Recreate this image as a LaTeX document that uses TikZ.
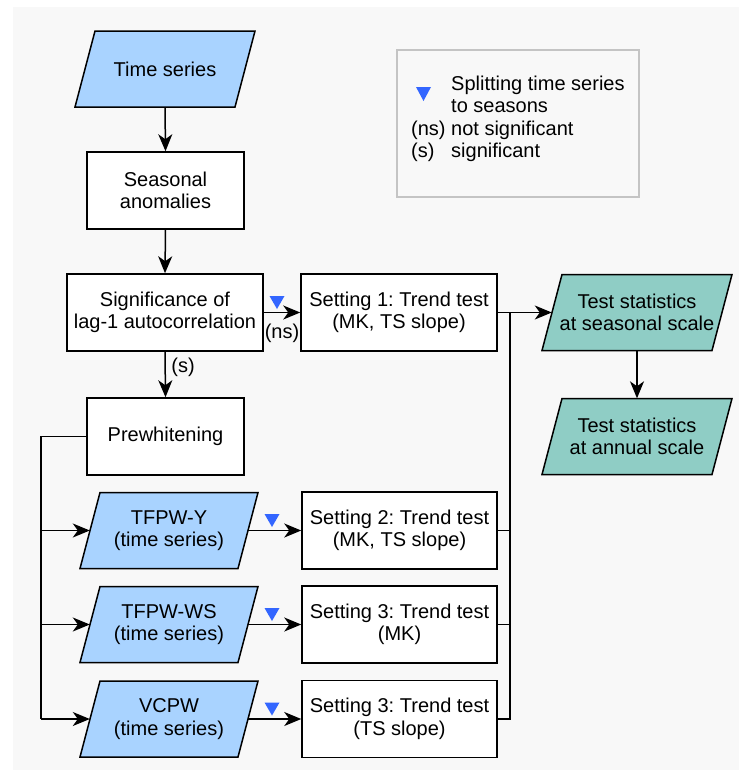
\documentclass[tikz,border=0pt]{standalone}
\usepackage{fontspec}
\setmainfont{Liberation Sans}
\usetikzlibrary{arrows.meta,calc}
\definecolor{bgc}{HTML}{F8F8F8}
\definecolor{lblue}{HTML}{A9D3FF}
\definecolor{lteal}{HTML}{8FCDC5}
\definecolor{splitblue}{HTML}{3366FF}
\definecolor{lgdgray}{HTML}{C4C4C4}
\newcommand{\mypara}[6]{%
  \filldraw[fill=#5, draw=black, line width=1.5pt] (#2-#4+10,#3-38) -- (#2+#4+10,#3-38) -- (#2+#4-10,#3+38) -- (#2-#4-10,#3+38) -- cycle;
  \node[txt, minimum width=2*#4, minimum height=76] (#1) at (#2,#3) {#6};}
\newcommand{\splitmark}[2]{\fill[splitblue] (#1-7.5,#2-16.5) -- (#1+7.5,#2-16.5) -- (#1,#2-3.5) -- cycle;}
\frenchspacing
\begin{document}
\begin{tikzpicture}[x=1pt,y=-1pt,
  font=\fontsize{20}{22.5}\selectfont,
  txt/.style={inner sep=0pt, align=center},
  box/.style={txt, draw=black, fill=white, line width=1.5pt, minimum width=157, minimum height=77},
  wbox/.style={box, minimum width=196},
  conn/.style={line width=1.5pt},
  arr/.style={line width=1.5pt, -{Stealth[length=17pt,width=14pt,inset=5pt]}},
  lbl/.style={inner sep=0pt, anchor=base}]
\useasboundingbox (0,0) rectangle (739,774);
\fill[bgc] (13,7) rectangle (739,770);

% legend
\node[draw=lgdgray, line width=1.5pt, fill=bgc, minimum width=242, minimum height=147, inner sep=0pt] (legend) at (518,123.5) {};
\fill[splitblue] (416,87) -- (431,87) -- (423.5,101) -- cycle;
\node[lbl, anchor=base west] (lg1) at (451,90) {Splitting time series};
\node[lbl, anchor=base west] (lg2) at (451,112.5) {to seasons};
\node[lbl, anchor=base west] (lg3) at (411,135) {(ns)};
\node[lbl, anchor=base west] (lg4) at (451,135) {not significant};
\node[lbl, anchor=base west] (lg5) at (411,157.5) {(s)};
\node[lbl, anchor=base west] (lg6) at (451,157.5) {significant};

% main column
\mypara{ts}{165}{69}{80}{lblue}{Time series}
\node[box] (sa) at (165.5,190.5) {Seasonal\\anomalies};
\node[wbox] (sig) at (165,312.5) {Significance of\\lag-1 autocorrelation};
\node[box] (pw) at (165.5,436.5) {Prewhitening};

% prewhitened series
\mypara{tfy}{169}{530.5}{79}{lblue}{TFPW-Y\\(time series)}
\mypara{tfws}{169}{624.5}{79}{lblue}{TFPW-WS\\(time series)}
\mypara{vcpw}{169}{719}{79}{lblue}{VCPW\\(time series)}

% settings
\node[wbox] (s1) at (399,312.5) {Setting 1: Trend test\\(MK, TS slope)};
\node[box, minimum width=195] (s2) at (399.5,530.5) {Setting 2: Trend test\\(MK, TS slope)};
\node[box, minimum width=195] (s3a) at (399.5,624.5) {Setting 3: Trend test\\(MK)};
\node[box, minimum width=195] (s3b) at (399.5,719) {Setting 3: Trend test\\(TS slope)};

% outputs
\mypara{tss}{637}{312.5}{85}{lteal}{Test statistics\\at seasonal scale}
\mypara{tsa}{637}{436.5}{85}{lteal}{Test statistics\\at annual scale}

% connectors
\draw[arr] (ts.south) -- (sa.north);
\draw[arr] (sa.south) -- (sig.north);
\draw[arr] (sig.south) -- (pw.north);
\node[lbl] (slab) at (183,372) {(s)};
\draw[arr] (sig.east) -- (s1.west);
\splitmark{277}{312.5}
\node[lbl] (nslab) at (282,338) {(ns)};

\coordinate (lbus) at (41,436.5);
\draw[conn] (pw.west) -- (lbus) -- (lbus |- vcpw.west);
\draw[arr] (lbus |- tfy.west) -- (tfy.west);
\draw[arr] (lbus |- tfws.west) -- (tfws.west);
\draw[arr] (lbus |- vcpw.west) -- (vcpw.west);

\draw[arr] (tfy.east) -- (s2.west);
\splitmark{272}{530.5}
\draw[arr] (tfws.east) -- (s3a.west);
\splitmark{272}{624.5}
\draw[arr] (vcpw.east) -- (s3b.west);
\splitmark{272}{719}

\coordinate (rbus) at (510,312.5);
\draw[arr] (s1.east) -- (tss.west);
\draw[conn] (rbus) -- (rbus |- s3b.east) -- (s3b.east);
\draw[conn] (s2.east) -- (rbus |- s2.east);
\draw[conn] (s3a.east) -- (rbus |- s3a.east);

\draw[arr] (tss.south) -- (tsa.north);
\end{tikzpicture}
\end{document}
